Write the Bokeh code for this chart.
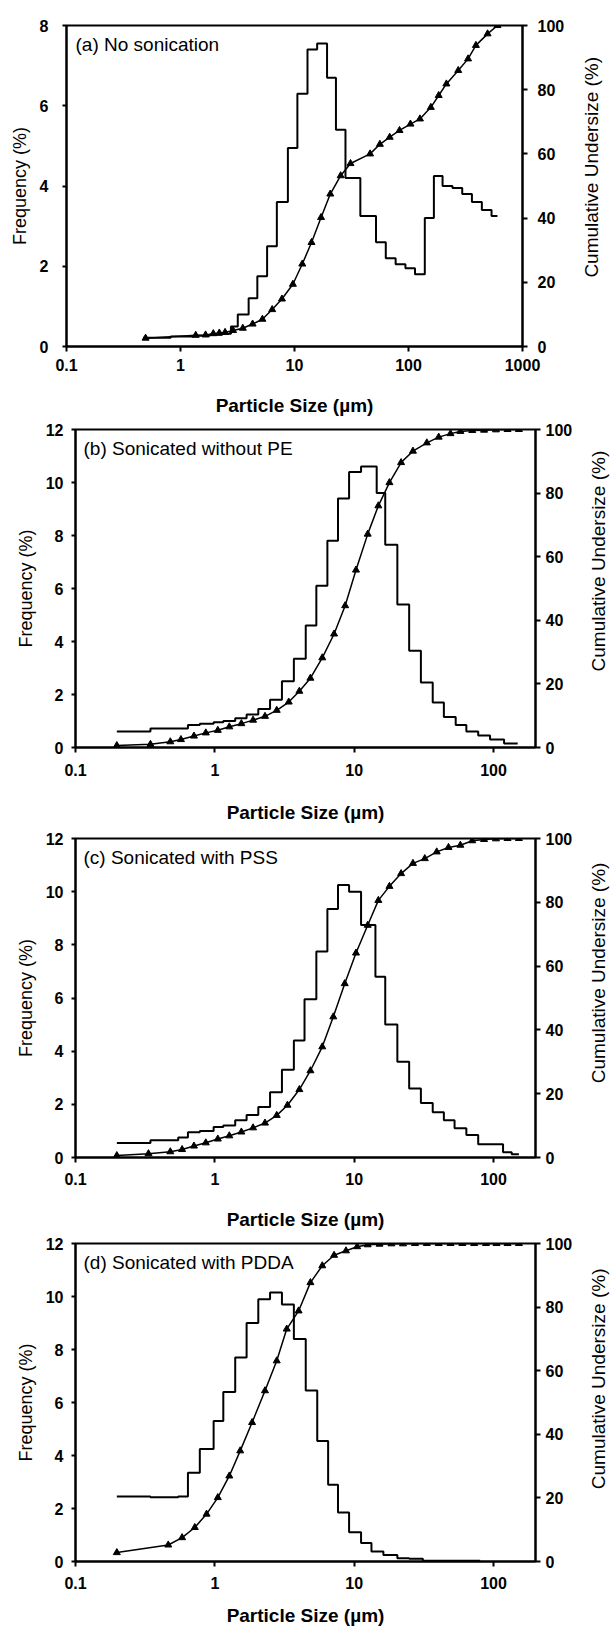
import math
from bokeh.plotting import figure
from bokeh.models import Range1d, LinearAxis, FixedTicker, CustomJSTickFormatter, Label
from bokeh.layouts import column, row
from bokeh.embed import file_html
from bokeh.resources import INLINE
from bokeh.core.properties import value

# ---------------- data ----------------
# (a) No sonication
edges_a = [0.47, 0.82, 1.3, 1.8, 2.3, 2.77, 3.18, 3.96, 4.72, 5.75, 7.0, 8.75, 10.6, 13.0,
           15.8, 19.3, 23.1, 28.0, 37.8, 51.9, 63.2, 77.1, 94.0, 114, 139, 167, 199, 243,
           296, 360, 440, 535, 603]
freq_a = [0.22, 0.25, 0.27, 0.29, 0.32, 0.5, 0.8, 1.2, 1.75, 2.5, 3.6, 4.95, 6.3, 7.4, 7.55,
          6.7, 5.4, 4.2, 3.25, 2.6, 2.2, 2.05, 1.95, 1.8, 3.2, 4.25, 4.0, 3.95, 3.8, 3.6,
          3.4, 3.25]
cum_x_a = [0.494, 1.36, 1.66, 1.94, 2.19, 2.46, 2.89, 3.52, 4.29, 5.23, 6.37, 7.76, 9.68,
           11.7, 14.1, 17.1, 20.6, 25.4, 31.0, 46.0, 56.1, 68.4, 83.4, 104, 126, 157, 184,
           215, 273, 333, 390, 494, 603]
cum_y_a = [2.6, 3.5, 3.6, 4.0, 4.2, 4.4, 5.0, 5.7, 7.0, 8.5, 11.5, 14.8, 19.4, 25.7, 32.4,
           40.2, 47.5, 53.2, 57.0, 60.0, 63.0, 65.2, 67.3, 69.3, 70.9, 74.5, 78.2, 81.8,
           86.0, 89.6, 93.8, 97.4, 100]

# (b) Sonicated without PE
edges_b = [0.198, 0.345, 0.641, 0.780, 0.98, 1.15, 1.40, 1.69, 2.05, 2.49, 3.03, 3.69, 4.49,
           5.35, 6.42, 7.65, 9.19, 11.2, 14.5, 16.7, 20.4, 24.8, 30.1, 36.6, 44.0, 53.5,
           63.8, 77.6, 94.4, 119, 149]
freq_b = [0.6, 0.72, 0.85, 0.9, 0.95, 1.0, 1.1, 1.25, 1.45, 1.8, 2.5, 3.35, 4.6, 6.1, 7.8,
          9.4, 10.4, 10.6, 9.6, 7.65, 5.4, 3.65, 2.45, 1.7, 1.15, 0.85, 0.6, 0.45, 0.3, 0.15]
cum_x_b = [0.198, 0.345, 0.479, 0.571, 0.708, 0.861, 1.05, 1.27, 1.55, 1.88, 2.29, 2.78,
           3.39, 4.04, 4.85, 5.90, 7.17, 8.61, 10.3, 12.5, 14.9, 17.9, 21.7, 26.4, 33.2,
           40.4, 49.1, 57.8, 70.3, 85.5, 104, 126, 152]
cum_y_b = [0.6, 1.0, 1.8, 2.5, 3.6, 4.6, 5.4, 6.5, 7.5, 8.6, 9.8, 11.7, 14.3, 17.7, 21.8,
           28.2, 35.7, 44.6, 55.8, 67.1, 76.0, 83.3, 89.6, 93.2, 95.8, 97.6, 98.7, 99.4,
           99.7, 99.8, 99.9, 100, 100]

# (c) Sonicated with PSS
edges_c = [0.198, 0.345, 0.546, 0.641, 0.780, 0.98, 1.15, 1.40, 1.69, 2.05, 2.49, 3.03,
           3.69, 4.40, 5.35, 6.42, 7.65, 9.19, 11.2, 14.2, 16.7, 20.4, 24.8, 30.1, 36.6,
           44.0, 52.5, 63.8, 77.6, 117, 135, 152]
freq_c = [0.55, 0.65, 0.75, 0.95, 1.0, 1.15, 1.2, 1.4, 1.6, 1.9, 2.45, 3.3, 4.4, 5.95, 7.75,
          9.35, 10.25, 10.0, 8.75, 6.8, 5.0, 3.6, 2.6, 2.05, 1.7, 1.4, 1.1, 0.85, 0.5, 0.2,
          0.12]
cum_x_c = [0.198, 0.334, 0.479, 0.582, 0.708, 0.861, 1.05, 1.27, 1.55, 1.88, 2.29, 2.78,
           3.32, 4.04, 4.85, 5.90, 7.08, 8.55, 10.3, 12.5, 14.9, 17.9, 21.7, 26.4, 32.1,
           39.1, 47.5, 57.8, 70.3, 85.5, 104, 126, 152]
cum_y_c = [0.6, 1.2, 1.8, 2.5, 3.6, 4.6, 5.8, 6.8, 8.0, 9.3, 10.8, 13.2, 16.4, 21.3, 27.2,
           34.7, 44.1, 54.5, 64.1, 72.8, 80.6, 85.0, 89.0, 92.2, 93.7, 95.8, 97.2, 97.9,
           99.3, 99.7, 99.9, 100, 100]

# (d) Sonicated with PDDA
edges_d = [0.198, 0.345, 0.546, 0.641, 0.780, 0.98, 1.15, 1.40, 1.69, 2.05, 2.49, 3.03,
           3.69, 4.49, 5.43, 6.50, 7.65, 9.19, 11.2, 13.3, 16.2, 20.4, 24.8, 31.1, 80.2]
freq_d = [2.45, 2.42, 2.45, 3.35, 4.25, 5.3, 6.4, 7.7, 9.0, 9.9, 10.15, 9.7, 8.4, 6.45,
          4.55, 2.9, 1.85, 1.1, 0.7, 0.38, 0.25, 0.12, 0.1, 0.03]
cum_x_d = [0.198, 0.463, 0.582, 0.718, 0.872, 1.05, 1.27, 1.52, 1.85, 2.29, 2.78, 3.28,
           3.99, 4.85, 5.90, 7.17, 8.73, 10.5, 12.5, 15.2, 18.5, 22.4, 27.3, 33.2, 40.4,
           49.1, 59.7, 72.6, 88.3, 105, 126, 152]
cum_y_d = [2.8, 5.2, 7.5, 10.7, 14.9, 20.1, 26.9, 34.8, 43.7, 53.7, 63.1, 73.1, 78.8, 87.7,
           93.0, 96.3, 97.7, 99.0, 99.6, 99.8, 99.9, 99.9, 100, 100, 100, 100, 100, 100,
           100, 100, 100, 100]

panel_titles = ["(a) No sonication", "(b) Sonicated without PE",
                "(c) Sonicated with PSS", "(d) Sonicated with PDDA"]
x_ticks_a = [0.1, 1, 10, 100, 1000]
x_ticks_bcd = [0.1, 1, 10, 100]
freq_ticks_a = [0, 2, 4, 6, 8]
freq_ticks_bcd = [0, 2, 4, 6, 8, 10, 12]
cum_ticks = [0, 20, 40, 60, 80, 100]
x_label = "Particle Size (µm)"
y_label = "Frequency (%)"
y2_label = "Cumulative Undersize (%)"

FONT = "Liberation Sans"
MAIN_W = 575         # main chart width
SIDE_W = 39          # narrow strip holding the right-hand axis title (total 614)


def style_axis(ax, tick_out, standoff, label_standoff, label_size, label_bold):
    ax.axis_line_color = "black"
    ax.axis_line_width = 2
    ax.major_tick_line_color = "black"
    ax.major_tick_line_width = 2
    ax.major_tick_in = 0
    ax.major_tick_out = tick_out
    ax.minor_tick_line_color = None
    ax.major_label_standoff = standoff
    ax.axis_label_standoff = label_standoff
    ax.major_label_text_font = FONT
    ax.major_label_text_font_size = "16px"
    ax.major_label_text_font_style = "bold"
    ax.major_label_text_color = "black"
    ax.axis_label_text_font = FONT
    ax.axis_label_text_font_size = label_size
    ax.axis_label_text_font_style = "bold" if label_bold else "normal"
    ax.axis_label_text_color = "black"


def make_panel(title, edges, freq, cx, cy, xmax, ymax, xticks, fticks, h, bl, br, bt, bb,
               lstand, lls, xstand, xls, rstand, tx, ty, side_x):
    p = figure(width=MAIN_W, height=h, x_axis_type="log",
               x_range=Range1d(0.1, xmax), y_range=Range1d(0, ymax),
               output_backend="svg", toolbar_location=None,
               min_border_left=bl, min_border_right=br,
               min_border_top=bt, min_border_bottom=bb)
    p.extra_y_ranges = {"cum": Range1d(0, 100)}
    p.xgrid.visible = False
    p.ygrid.visible = False
    p.outline_line_color = "black"
    p.outline_line_width = 2
    p.background_fill_color = "white"
    p.border_fill_color = "white"

    xa = p.xaxis[0]
    xa.ticker = FixedTicker(ticks=xticks)
    xa.formatter = CustomJSTickFormatter(code="return String(tick);")
    xa.axis_label = x_label
    style_axis(xa, 5, xstand, xls, "19px", True)

    ya = p.yaxis[0]
    ya.ticker = FixedTicker(ticks=fticks)
    ya.axis_label = y_label
    style_axis(ya, 4, lstand, lls, "18px", False)

    ra = LinearAxis(y_range_name="cum", ticker=FixedTicker(ticks=cum_ticks))
    style_axis(ra, 5, rstand, 0, "19px", False)
    p.add_layout(ra, "right")

    # histogram as a step line
    p.step(x=edges, y=freq + [freq[-1]], mode="after", line_color="black", line_width=2)
    # cumulative curve with triangle markers
    p.line(x=cx, y=cy, y_range_name="cum", line_color="black", line_width=1.5)
    p.scatter(x=cx, y=cy, y_range_name="cum", marker="triangle", size=7,
              fill_color="black", line_color="black")

    p.add_layout(Label(x=0.1, y=ymax, x_offset=tx, y_offset=-ty, text=title,
                       text_font=FONT, text_font_size="19px", text_color="black",
                       text_baseline="middle", text_align="left"))

    # side strip with the right-axis title, vertically centred on the plot frame
    frame_h = h - bt - bb
    yc = (h - (bt + frame_h / 2.0)) / h
    s = figure(width=SIDE_W, height=h, x_range=Range1d(0, 1), y_range=Range1d(0, 1),
               output_backend="svg", toolbar_location=None,
               x_axis_location=None, y_axis_location=None,
               min_border_left=0, min_border_right=0, min_border_top=0,
               min_border_bottom=0)
    s.outline_line_color = None
    s.xgrid.visible = False
    s.ygrid.visible = False
    s.text(x=[side_x], y=[yc], text=[y2_label], angle=math.pi / 2,
           text_align="center", text_baseline="middle",
           text_font=value(FONT), text_font_size=value("19px"), text_color="black")
    return row(p, s, spacing=0)


# layout (page has no margin with bokeh's template): frames at
# a: x 66-522, y 25-346 | b: x 75-535, y 429-747 | c: y 838-1157 | d: y 1243-1561
pa = make_panel(panel_titles[0], edges_a, freq_a, cum_x_a, cum_y_a, 1000, 8, x_ticks_a,
                freq_ticks_a, 420, 66, MAIN_W - 522, 25, 74, 14, 7, 7, 21, 10, 9, 19, 0.41)
pb = make_panel(panel_titles[1], edges_b, freq_b, cum_x_b, cum_y_b, 200, 12, x_ticks_bcd,
                freq_ticks_bcd, 406, 75, MAIN_W - 535, 9, 79, 8, 7, 11, 23, 5, 8, 19, 0.6)
pc = make_panel(panel_titles[2], edges_c, freq_c, cum_x_c, cum_y_c, 200, 12, x_ticks_bcd,
                freq_ticks_bcd, 407, 75, MAIN_W - 535, 12, 76, 8, 7, 10, 21, 5, 8, 19, 0.6)
pd = make_panel(panel_titles[3], edges_d, freq_d, cum_x_d, cum_y_d, 200, 12, x_ticks_bcd,
                freq_ticks_bcd, 397, 75, MAIN_W - 535, 10, 69, 8, 7, 10, 13, 5, 8, 19, 0.6)

layout = column(pa, pb, pc, pd, spacing=0)
open("out.html", "w").write(file_html(layout, INLINE))
